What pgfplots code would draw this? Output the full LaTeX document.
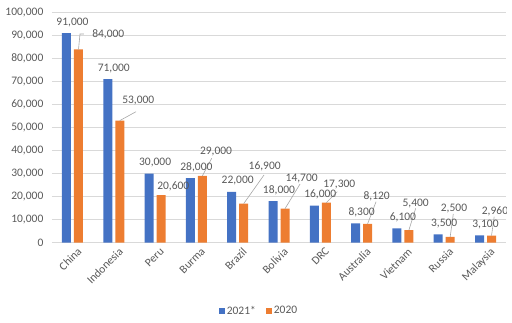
\documentclass[border=0pt]{standalone}
\usepackage{pgfplots}
\pgfplotsset{compat=1.18}
\usepackage{fontspec}
\setmainfont{Carlito}
\definecolor{cblue}{HTML}{4472C4}
\definecolor{corange}{HTML}{ED7D31}
\definecolor{ctext}{HTML}{595959}
\definecolor{cgrid}{HTML}{D9D9D9}
\definecolor{clead}{HTML}{A6A6A6}
\newcommand{\lblfont}{\fontsize{11.5bp}{13.5bp}\selectfont}
\begin{document}
\begin{tikzpicture}[font=\lblfont]
\useasboundingbox (-51.85bp,-80.5bp) rectangle (460.15bp,242.5bp);
\begin{axis}[
  at={(0,0)}, anchor=south west,
  scale only axis, width=454.3bp, height=230bp,
  ymin=0, ymax=100000, ytick={0,10000,...,100000},
  xmin=-0.5, xmax=10.5,
  xtick={0,...,10},
  xticklabels={China,Indonesia,Peru,Burma,Brazil,Bolivia,DRC,Australia,Vietnam,Russia,Malaysia},
  ybar=3bp, bar width=9bp,
  ymajorgrids, grid style={cgrid, line width=0.75bp},
  axis line style={draw=none},
  major tick length=0pt,
  tick label style={text=ctext, font=\lblfont},
  scaled y ticks=false,
  /pgf/number format/assume math mode=true,
  yticklabel style={/pgf/number format/.cd, fixed, 1000 sep={,}, /tikz/.cd, xshift=-5bp},
  xticklabel style={rotate=45, anchor=north east, inner sep=1bp, yshift=-5bp, xshift=1bp},
  every axis plot post/.append style={legend image code/.code={\fill[##1] (0bp,-3bp) rectangle (6bp,3bp);}},
  legend style={at={(0.456,-0.2965)}, anchor=center, draw=none, fill=none,
    legend columns=-1, text=ctext, font=\lblfont,
    /tikz/every even column/.append style={column sep=8bp}},
]
\addplot[fill=cblue, draw=none, point meta=explicit symbolic, nodes near coords,
  every node near coord/.style={text=ctext, anchor=base, yshift=8bp, font=\lblfont}]
  coordinates {(0,91000) [91,000] (1,71000) [71,000] (2,30000) [30,000] (3,28000) [28,000]
  (4,22000) [22,000] (5,18000) [18,000] (6,16000) [16,000] (7,8300) [8,300]
  (8,6100) [6,100] (9,3500) [3,500] (10,3100) [3,100]};
\addplot[fill=corange, draw=none]
  coordinates {(0,84000) (1,53000) (2,20600) (3,29000) (4,16900) (5,14700)
  (6,17300) (7,8120) (8,5400) (9,2500) (10,2960)};
\legend{2021*,2020}
% leader lines for 2020 labels
\draw[clead, line width=0.6bp] ([xshift=6bp]axis cs:0,84000) -- (axis cs:0.182,90650) -- (axis cs:0.278,90650);
\draw[clead, line width=0.6bp] ([xshift=6bp]axis cs:1,53000) -- (axis cs:1.538,56870);
\draw[clead, line width=0.6bp] ([xshift=6bp]axis cs:3,29000) -- (axis cs:3.37,36610);
\draw[clead, line width=0.6bp] ([xshift=6bp]axis cs:4,16900) -- (axis cs:4.637,29350);
\draw[clead, line width=0.6bp] ([xshift=6bp]axis cs:5,14700) -- (axis cs:5.51,25440);
\draw[clead, line width=0.6bp] ([xshift=6bp]axis cs:6,17300) -- (axis cs:6.41,22090);
\draw[clead, line width=0.6bp] ([xshift=6bp]axis cs:7,8120) -- (axis cs:7.35,17740);
\draw[clead, line width=0.6bp] ([xshift=6bp]axis cs:8,5400) -- (axis cs:8.31,14870);
\draw[clead, line width=0.6bp] ([xshift=6bp]axis cs:9,2500) -- (axis cs:9.22,12390);
\draw[clead, line width=0.6bp] ([xshift=6bp]axis cs:10,2960) -- (axis cs:10.21,11220);
\begin{scope}[every node/.style={text=ctext, font=\lblfont, inner sep=0pt}]
\node at (axis cs:0.867,90650) {84,000};
\node at (axis cs:1.593,61560) {53,000};
\node at (axis cs:2.44,24260) {20,600};
\node at (axis cs:3.475,39480) {29,000};
\node at (axis cs:4.654,32960) {16,900};
\node at (axis cs:5.55,27910) {14,700};
\node at (axis cs:6.46,25000) {17,300};
\node at (axis cs:7.366,19910) {8,120};
\node at (axis cs:8.31,16740) {5,400};
\node at (axis cs:9.237,14870) {2,500};
\node at (axis cs:10.23,13390) {2,960};
\end{scope}
\end{axis}
\end{tikzpicture}
\end{document}
